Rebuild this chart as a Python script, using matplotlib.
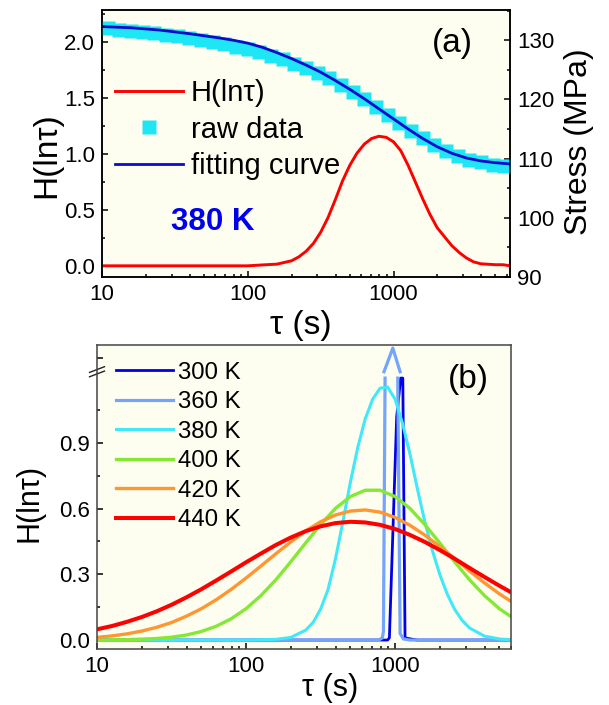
import numpy as np
import matplotlib
matplotlib.use('Agg')
import matplotlib.pyplot as plt
import matplotlib.transforms as mtransforms
from matplotlib.ticker import MultipleLocator, LogLocator, NullFormatter

plt.rcParams['font.family'] = ['Liberation Sans', 'DejaVu Sans']

nan = float('nan')

# ---- panel (a): 380 K, H(ln tau) and stress relaxation ----
log_tau_a = [1.0, 1.5, 2.0, 2.1, 2.2, 2.3, 2.35, 2.4, 2.45, 2.5, 2.55, 2.6, 2.65, 2.7, 2.75,
             2.8, 2.85, 2.9, 2.95, 3.0, 3.05, 3.1, 3.15, 3.2, 3.25, 3.3, 3.35, 3.4, 3.45, 3.5,
             3.55, 3.6, 3.7, 3.75, 3.8]
h_a = [0, 0, 0, 0.008, 0.015, 0.045, 0.08, 0.13, 0.20, 0.30, 0.43, 0.59, 0.76, 0.90, 1.01,
       1.09, 1.14, 1.16, 1.15, 1.11, 1.03, 0.90, 0.75, 0.60, 0.46, 0.34, 0.26, 0.18, 0.12, 0.07,
       0.035, 0.018, 0.01, 0.01, 0.0]

log_tau_raw = [1.04, 1.12, 1.20, 1.28, 1.36, 1.44, 1.52, 1.60, 1.68, 1.76, 1.84, 1.92, 2.00,
               2.08, 2.16, 2.24, 2.32, 2.40, 2.48, 2.56, 2.64, 2.72, 2.80, 2.88, 2.96, 3.04,
               3.12, 3.20, 3.28, 3.36, 3.44, 3.52, 3.60, 3.68, 3.76]
stress_raw = [132.0, 131.8, 131.6, 131.4, 131.2, 130.9, 130.7, 130.4, 130.0, 129.7, 129.3,
              128.9, 128.5, 128.0, 127.4, 126.8, 126.0, 125.3, 124.5, 123.6, 122.5, 121.3,
              120.1, 118.8, 117.4, 116.0, 114.7, 113.4, 112.3, 111.3, 110.5, 109.8, 109.4,
              109.0, 108.8]

log_tau_fit = [1.0, 1.2, 1.4, 1.6, 1.8, 1.9, 2.0, 2.1, 2.2, 2.3, 2.4, 2.5, 2.6, 2.7, 2.8,
               2.9, 3.0, 3.1, 3.2, 3.3, 3.4, 3.5, 3.6, 3.7, 3.8]
stress_fit = [132.3, 132.1, 131.7, 131.1, 130.4, 130.0, 129.5, 128.8, 127.9, 126.9, 125.8,
              124.6, 123.2, 121.7, 120.1, 118.4, 116.7, 115.0, 113.4, 112.0, 110.9, 110.1,
              109.6, 109.3, 109.1]

# ---- panel (b): H(ln tau) at several temperatures ----
log_tau_b = [1.0, 1.1, 1.2, 1.3, 1.4, 1.5, 1.6, 1.7, 1.8, 1.9, 2.0, 2.1, 2.2, 2.3, 2.4,
             2.5, 2.6, 2.7, 2.8, 2.9, 3.0, 3.1, 3.2, 3.3, 3.4, 3.5, 3.6, 3.7, 3.8]
h_400 = [0.000, 0.001, 0.002, 0.004, 0.007, 0.013, 0.023, 0.039, 0.063, 0.097, 0.143, 0.203,
         0.275, 0.357, 0.443, 0.527, 0.601, 0.655, 0.684, 0.684, 0.655, 0.601, 0.527, 0.443,
         0.357, 0.275, 0.203, 0.143, 0.097]
h_420 = [0.012, 0.019, 0.028, 0.041, 0.058, 0.080, 0.109, 0.143, 0.184, 0.231, 0.283, 0.338,
         0.394, 0.448, 0.498, 0.540, 0.571, 0.589, 0.594, 0.584, 0.560, 0.524, 0.479, 0.427,
         0.372, 0.315, 0.261, 0.211, 0.167]
h_440 = [0.049, 0.064, 0.083, 0.105, 0.131, 0.161, 0.195, 0.232, 0.272, 0.313, 0.355, 0.395,
         0.434, 0.468, 0.497, 0.519, 0.534, 0.540, 0.537, 0.526, 0.507, 0.480, 0.448, 0.411,
         0.371, 0.329, 0.288, 0.248, 0.210]

log_tau_380 = [1.0, 1.5, 2.0, 2.2, 2.3, 2.4, 2.45, 2.5, 2.55, 2.6, 2.65, 2.7, 2.75, 2.8, 2.85,
               2.9, 2.95, 3.0, 3.05, 3.1, 3.15, 3.2, 3.25, 3.3, 3.35, 3.4, 3.45, 3.5, 3.6, 3.7, 3.8]
h_380 = [0, 0, 0, 0.003, 0.012, 0.045, 0.08, 0.14, 0.23, 0.37, 0.54, 0.72, 0.88, 1.01, 1.10,
         1.15, 1.155, 1.10, 0.99, 0.85, 0.69, 0.54, 0.41, 0.30, 0.21, 0.14, 0.09, 0.055, 0.018,
         0.005, 0.0]

# 360 K and 300 K peaks run through the axis break (gaps are nan)
log_tau_360 = [1.0, 2.89, 2.915, 2.922, 2.933, nan, 2.926, 2.985, 3.034, nan,
               3.018, 3.034, 3.056, 3.1, 3.8]
h_360 = [0, 0, 0.01, 0.04, 1.196, nan, 1.225, 1.333, 1.225, nan,
         1.196, 0.03, 0.005, 0, 0]
log_tau_300 = [1.0, 2.95, 2.962, 3.011, 3.038, 3.052, 3.067, 3.112, 3.15, 3.8]
h_300 = [0, 0, 0.01, 1.02, 1.196, 1.196, 0.01, 0.004, 0, 0]

temps = ['300 K', '360 K', '380 K', '400 K', '420 K', '440 K']
colors = ['#0000ee', '#74a4fb', '#40e8f8', '#84e834', '#ff9630', '#ff0000']
widths = [2.0, 2.3, 2.2, 2.4, 2.4, 2.9]

bg = '#fefef0'

fig = plt.figure(figsize=(6.09, 7.05), dpi=100)

# ---------------- panel (a) ----------------
ax = fig.add_axes([0.1675, 0.6071, 0.6700, 0.3787])
ax.set_facecolor(bg)
ax2 = ax.twinx()

la, = ax.plot(10 ** np.array(log_tau_a), h_a, color='#ff0000', lw=2.1)
lr, = ax2.plot(10 ** np.array(log_tau_raw), stress_raw, ls='none', marker='s', ms=10,
               color='#1ee6f5', mec='none')
lf, = ax2.plot(10 ** np.array(log_tau_fit), stress_fit, color='#0a0acd', lw=2)

ax.set_xscale('log')
ax.set_xlim(10, 6300)
ax.set_ylim(-0.1, 2.29)
ax2.set_ylim(90, 135.1)

ax.set_xticks([10, 100, 1000], labels=['10', '100', '1000'])
ax.xaxis.set_minor_locator(LogLocator(base=10, subs=range(2, 10)))
ax.xaxis.set_minor_formatter(NullFormatter())
ax.set_yticks([0, 0.5, 1.0, 1.5, 2.0], labels=['0.0', '0.5', '1.0', '1.5', '2.0'])
ax.yaxis.set_minor_locator(MultipleLocator(0.25))
ax2.set_yticks([90, 100, 110, 120, 130], labels=['90', '100', '110', '120', '130'])
ax2.yaxis.set_minor_locator(MultipleLocator(5))

for a in (ax, ax2):
    a.tick_params(which='both', direction='in', labelsize=16, width=1.1, pad=5)
    a.tick_params(which='major', length=4.5)
    a.tick_params(which='minor', length=2.5)
    for s in a.spines.values():
        s.set_linewidth(1.1)
ax.tick_params(which='both', top=False, right=False)
ax2.tick_params(which='both', top=False, left=False, right=True)

ax.set_ylabel('H(lnτ)', fontsize=24)
ax.yaxis.set_label_coords(-0.135, 0.457)
ax.yaxis.label.set_va('center')
ax.set_xlabel('τ (s)', fontsize=24)
ax.xaxis.set_label_coords(0.488, -0.18)
ax.xaxis.label.set_va('center')
ax2.set_ylabel('Stress (MPa)', fontsize=23, rotation=90)
ax2.yaxis.set_label_coords(1.17, 0.506)
ax2.yaxis.label.set_va('center')

ax2.legend([la, lr, lf], ['H(lnτ)', 'raw data', 'fitting curve'], loc='upper left',
           bbox_to_anchor=(0.033, 0.742), frameon=False, fontsize=21, handlelength=2.3,
           handletextpad=0.28, labelspacing=0.3, borderpad=0, borderaxespad=0, numpoints=1)
ax2.text(0.272, 0.206, '380 K', transform=ax.transAxes, ha='center', va='center',
         fontsize=22.5, fontweight='bold', color='#0000ee')
ax2.text(0.858, 0.876, '(a)', transform=ax.transAxes, ha='center', va='center', fontsize=24)

# ---------------- panel (b) ----------------
bx = fig.add_axes([0.1593, 0.0794, 0.6798, 0.4312])
bx.set_facecolor(bg)

xs = [log_tau_300, log_tau_360, log_tau_380, log_tau_b, log_tau_b, log_tau_b]
ys = [h_300, h_360, h_380, h_400, h_420, h_440]
handles = []
for lx, hy, c, w, t in zip(xs, ys, colors, widths, temps):
    ln, = bx.plot(10 ** np.array(lx), hy, color=c, lw=w, label=t)
    handles.append(ln)

bx.set_xscale('log')
bx.set_xlim(10, 6000)
bx.set_ylim(-0.041, 1.347)
bx.set_xticks([10, 100, 1000], labels=['10', '100', '1000'])
bx.xaxis.set_minor_locator(LogLocator(base=10, subs=range(2, 10)))
bx.xaxis.set_minor_formatter(NullFormatter())
bx.set_yticks([0, 0.3, 0.6, 0.9, 1.29], labels=['0.0', '0.3', '0.6', '0.9', ''])
bx.set_yticks([0.15, 0.45, 0.75, 1.05], minor=True)
bx.tick_params(which='both', direction='in', labelsize=16, width=1.1, pad=5,
               top=False, right=False)
bx.tick_params(which='major', length=4.5)
bx.tick_params(which='minor', length=2.5)
for s in bx.spines.values():
    s.set_linewidth(1.1)
    s.set_color('#444444')

# axis break marks on the left spine
trans = mtransforms.blended_transform_factory(bx.transAxes, bx.transData)
for dy in (-0.01, 0.01):
    bx.plot([-0.018, 0.018], [1.212 + dy, 1.238 + dy], color='#222222', lw=1.0,
            transform=trans, clip_on=False)

bx.set_ylabel('H(lnτ)', fontsize=22)
bx.yaxis.set_label_coords(-0.164, 0.48)
bx.yaxis.label.set_va('center')
bx.set_xlabel('τ (s)', fontsize=22)
bx.xaxis.set_label_coords(0.563, -0.128)
bx.xaxis.label.set_va('center')

bx.legend(handles, temps, loc='upper left', bbox_to_anchor=(0.046, 0.945), frameon=False,
          fontsize=17.3, handlelength=2.37, handletextpad=0.19, labelspacing=0.31,
          borderpad=0, borderaxespad=0)
bx.text(0.896, 0.885, '(b)', transform=bx.transAxes, ha='center', va='center', fontsize=24)

fig.savefig('out.png', dpi=100)
